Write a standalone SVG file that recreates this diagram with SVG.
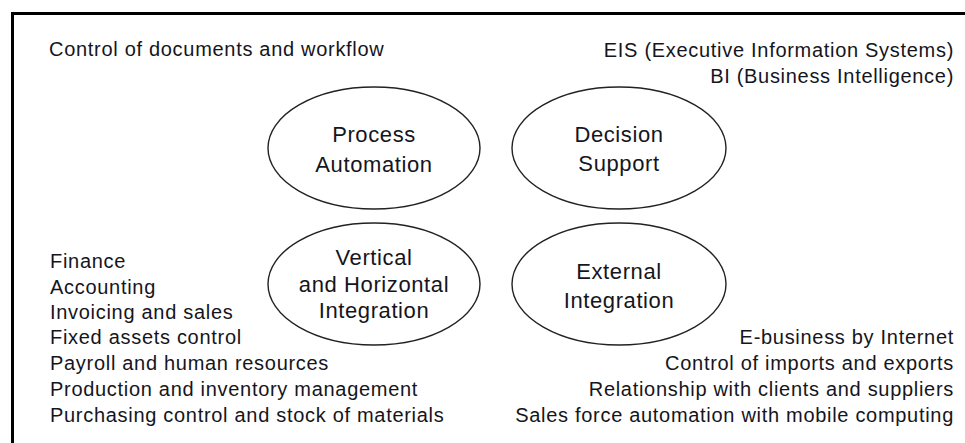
<svg xmlns="http://www.w3.org/2000/svg" width="965" height="443" viewBox="0 0 965 443">
  <style>
    .txt { font-family: "Liberation Sans", Arial, sans-serif; font-size: 20px; letter-spacing: 0.7px; fill: #151520; }
    .end { text-anchor: end; }
    .node ellipse { fill: none; stroke: #222; stroke-width: 1.4; }
    .node text { font-family: "Liberation Sans", Arial, sans-serif; font-size: 22px; letter-spacing: 0.6px; fill: #151520; text-anchor: middle; }
  </style>

  <rect x="0" y="0" width="965" height="443" fill="#ffffff"/>

  <!-- frame: heavy top and left rules -->
  <g id="frame" fill="#000">
    <rect x="11" y="12" width="954" height="3"/>
    <rect x="11" y="12" width="3" height="431"/>
  </g>

  <!-- quadrant nodes -->
  <g id="process-automation" class="node">
    <ellipse cx="374" cy="148" rx="106" ry="61"/>
    <text x="374" y="142">Process</text>
    <text x="374" y="172">Automation</text>
  </g>

  <g id="decision-support" class="node">
    <ellipse cx="619" cy="148" rx="107" ry="61"/>
    <text x="619" y="142">Decision</text>
    <text x="619" y="171">Support</text>
  </g>

  <g id="vertical-horizontal-integration" class="node">
    <ellipse cx="374" cy="284" rx="106" ry="61"/>
    <text x="374" y="265">Vertical</text>
    <text x="374" y="292">and Horizontal</text>
    <text x="374" y="318">Integration</text>
  </g>

  <g id="external-integration" class="node">
    <ellipse cx="619" cy="284" rx="107" ry="61"/>
    <text x="619" y="279">External</text>
    <text x="619" y="308">Integration</text>
  </g>

  <!-- item lists beside each quadrant -->
  <g id="process-items" class="txt">
    <text x="49" y="56">Control of documents and workflow</text>
  </g>

  <g id="decision-items" class="txt end">
    <text x="954" y="57">EIS (Executive Information Systems)</text>
    <text x="954" y="83">BI (Business Intelligence)</text>
  </g>

  <g id="integration-items" class="txt">
    <text x="50" y="268">Finance</text>
    <text x="50" y="294">Accounting</text>
    <text x="50" y="319">Invoicing and sales</text>
    <text x="50" y="344">Fixed assets control</text>
    <text x="50" y="370">Payroll and human resources</text>
    <text x="50" y="396">Production and inventory management</text>
    <text x="50" y="422">Purchasing control and stock of materials</text>
  </g>

  <g id="external-items" class="txt end">
    <text x="954" y="344">E-business by Internet</text>
    <text x="954" y="370">Control of imports and exports</text>
    <text x="954" y="396">Relationship with clients and suppliers</text>
    <text x="954" y="422">Sales force automation with mobile computing</text>
  </g>
</svg>
